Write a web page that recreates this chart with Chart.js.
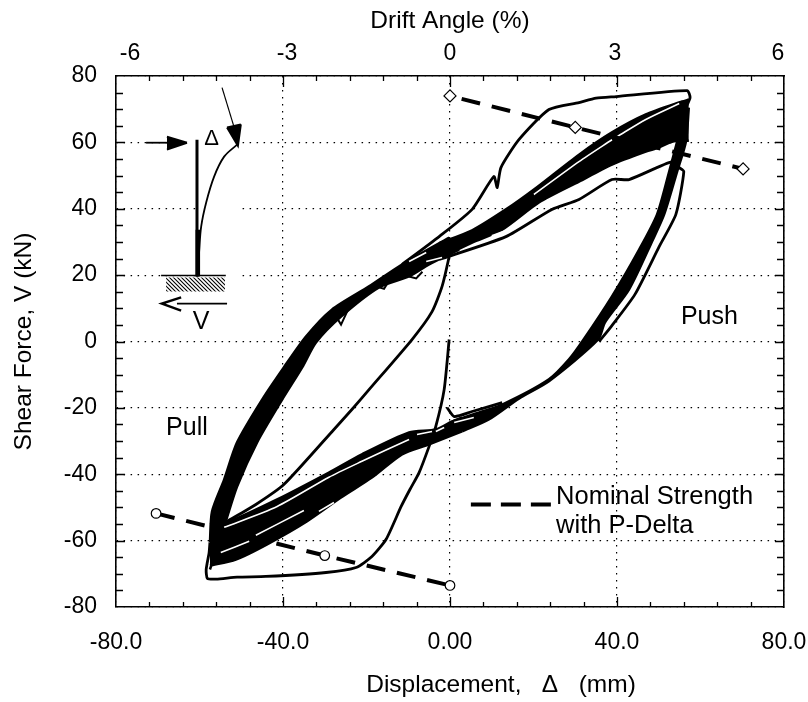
<!DOCTYPE html>
<html><head><meta charset="utf-8">
<style>html,body{margin:0;padding:0;background:#fff}canvas{display:block}</style>
<script src="https://cdn.jsdelivr.net/npm/chart.js@4"></script>
</head><body><canvas id="c" width="808" height="702"></canvas>
<script>
// Axis content
const xTickLabels = {"-80":"-80.0","-40":"-40.0","0":"0.00","40":"40.0","80":"80.0"};
const driftTicks = [-6,-3,0,3,6];
const xMinorValues = [-72,-64,-56,-48,-40,-32,-24,-16,-8,0,8,16,24,32,40,48,56,64,72];
const xMajorValues = [-40,0,40];
const yMinorValues = [75,70,65,60,55,50,45,40,35,30,25,20,15,10,5,0,-5,-10,-15,-20,-25,-30,-35,-40,-45,-50,-55,-60,-65,-70,-75];
const yMajorValues = [60,40,20,0,-20,-40,-60];

// First-excursion curve to pull, and the unloading that follows it
const pullVirgin = [[-0.2,0.6],[-1.4,-14.5],[-3.4,-25.6],[-5,-31.6],[-7.4,-39.5],[-9.6,-44.6],[-11.7,-49.7],[-15.3,-59.6],[-18.7,-64.8],[-22.5,-68.1],[-29.7,-69.6],[-44.1,-70.8],[-51,-71],[-56,-71.6],[-58.1,-71.4],[-58.4,-68.7],[-57.7,-63.6],[-57.5,-60.5]];
const pullUnload = [[-53.4,-54.2],[-46.5,-49.1],[-39.8,-43.1],[-27.8,-26.5],[-23.5,-20.5],[-19.4,-14.5],[-9.1,0.6],[-4.3,9],[-1.9,16.6],[-0.2,25.6],[0,27.7]];
// First excursion to push
const pushVirgin = [[-11.5,23.2],[-2.6,31.6],[5.3,39.8],[10.5,49.7],[11.3,46.4],[12.2,52.4],[16.5,60.8],[23.7,69.9],[30.9,72],[35,73.3],[39.8,73.8],[56.8,75.6],[57.5,73.5],[56.5,70.5]];
const pushOuter = [[-2.6,24.7],[13.4,31.6],[24.4,39.8],[30.9,42.8],[38.8,48.8],[42.9,48.8],[53.2,54.2],[54.9,52.4],[56,51.2],[54.1,38.3],[50.1,28.6],[44.3,14.2],[38.6,4.5],[35.7,0]];
const pushStart = [[-0.7,-19.9],[1,-22.6],[5.3,-21.1],[12.5,-18.4]];
const kinks = [[-28.3,9.6],[-26.1,5.1],[-24.2,10.2],[null,null],[-17,16.3],[-15.8,15.9],[-15,17.5],[null,null],[-9.8,19.6],[-8.1,19],[-6.6,21]];

// Dense repeated-cycle bands: upper and lower edges
const bandAUpper = [[-57.5,-60.5],[-57,-51.2],[-54.1,-41.6],[-51,-30.4],[-45,-17.5],[-39.8,-7.8],[-34.5,1.5],[-28.3,9.6],[-19.4,16.6],[-11.5,23.2],[-0.2,31.3]];
const bandALower = [[-57.5,-68.7],[-53.7,-54.2],[-51,-43.7],[-46.2,-30.4],[-40.2,-17.5],[-35.4,-7.8],[-32.1,-0.3],[-26.1,7.5],[-17,16.3],[-9.8,19.6],[-5,23.2],[2.2,27.7]];
const bandBUpper = [[-2.6,29.6],[5.3,33.5],[13.4,39.8],[20.1,45.8],[30.9,56.3],[38.8,63],[46.9,68.4],[55.6,72.3],[57.2,72.9]];
const bandBLower = [[-2.6,25],[5.3,29.8],[12.5,33.7],[21.3,41.9],[30.9,48.2],[38.8,53.3],[46.9,57.2],[50,58.4],[53.2,60.2],[57.2,60.5]];
const bandCUpper = [[0.5,-24.1],[6.2,-21.7],[12.5,-19],[23.7,-11.4],[28.5,-5.4],[32,0.6],[38.8,13.6],[45.3,27.7],[49.6,38.3],[52.5,51.2],[54.4,60.2],[56.5,70.5]];
const bandCLower = [[2.9,-27.1],[9.3,-23.5],[16.5,-17.2],[23.7,-12],[35.5,0.6],[37.1,5.7],[42.9,15.7],[48.6,30.7],[51.3,38.3],[54.4,51.2],[56.5,60.2],[57.2,70.5]];
const bandDUpper = [[-57.5,-55.1],[-53.4,-54.5],[-41.4,-47.6],[-29,-39.5],[-21.1,-34],[-9.8,-27.4],[-3.4,-26.5],[0.5,-24.1],[2.9,-22.9]];
const bandDLower = [[-57.5,-67.5],[-51.3,-65.7],[-43.8,-61.1],[-34.3,-54.2],[-26.1,-47],[-18.7,-41],[-11.5,-34],[-5,-31],[2.9,-27.1]];

// Thin white gaps inside the bands
const gapPush1 = [[20.1,44.3],[30.9,54.2],[38.8,60.8]];
const gapPush2 = [[40,61.7],[46.9,66.9],[54.9,71.7]];
const gapPush3 = [[10,31.9],[14.6,33.9]];
const gapUpperA = [[-9.8,24.1],[-5.7,26.8]];
const gapUpperB = [[-5.7,24.1],[-1.9,25.3]];
const gapPull1 = [[-54.1,-56],[-41.4,-49.7],[-29,-40.9],[-21.1,-36.1],[-9.8,-29.5]];
const gapPull1b = [[-7.9,-28],[-4.3,-27.1]];
const gapPull1c = [[-3.4,-27.1],[-1.4,-25.9]];
const gapPull2 = [[-54.9,-63.6],[-48.1,-60.2]];
const gapPull2b = [[-46.5,-58.4],[-35,-50.9]];
const gapPull3 = [[-31.4,-51.2],[-27.8,-48.5]];
const gapLow = [[1,-24.4],[5.7,-22.9]];

// Nominal strength with P-Delta
const nominalPush = [[0,74],[30,64.5],[70.2,52]];
const nominalPull = [[-70.4,-51.8],[-30,-64.5],[0,-73.5]];
const legendDash = [[5,-49.1],[24.2,-49.1]];

// Inset column sketch
const insetMaskTop = [[-60.6,62.3],[-49.8,62.3]];
const insetMaskBottom = [[-60.6,17.8],[-49.8,17.8]];
const insetMask2Top = [[-63,60.8],[-60.6,60.8]];
const insetMask2Bottom = [[-63,59],[-60.6,59]];
const hatchTop = [[-68,19.3],[-53.9,19.3]];
const hatchBottom = [[-68,15.1],[-53.9,15.1]];
const groundLine = [[-69.2,19.9],[-53.7,19.9]];
const columnLine = [[-60.6,60.8],[-60.6,19.6]];
const columnBase = [[-60.4,33.7],[-60.4,19.6]];
const deflected = [[-60.5,19.6],[-60.1,26.8],[-59.6,34.6],[-58.4,41.9],[-56.5,49.7],[-54.1,55.7],[-51,59.3]];
const pushArrow = [[-72.8,59.9],[-67.8,59.9]];
const pushHeadUpper = [[-67.8,61.7],[-63,59.9]];
const pushHeadLower = [[-67.8,57.8],[-63,59.9]];
const leaderLine = [[-54.6,76.5],[-51.7,64.5]];
const leaderHeadUpper = [[-53.4,64.5],[-50.1,65.4]];
const leaderHeadLower = [[-53.4,64.5],[-50.8,59],[-50.1,65.4]];
const shearArrow = [[-53.4,11.4],[-65.4,11.4]];
const shearHead = [[-64.4,13.3],[-69,11.4],[-64.4,9.3]];

// Text placed on the data scales: [text, x, y, size, align]
const noteLabels = [
  ["Pull",-68,-26.2,25,"left"],
  ["Push",55.3,7.5,25,"left"],
  ["Nominal Strength",25.4,-46.7,25.5,"left"],
  ["with P-Delta",25.4,-55.7,25.5,"left"],
  ["\u0394",-57.1,61,22,"center"],
  ["V",-59.6,5.7,25,"center"]
];
const xAxisTitle = "Displacement,   \u0394   (mm)";
const yAxisTitle = "Shear Force, V (kN)";
const topAxisTitle = "Drift Angle (%)";
const driftLabelNudge = [14,4,0,-2,-6];

const FONT = '"Liberation Sans", Arial, sans-serif';
const hatchPattern = (() => {
  const p = document.createElement('canvas'); p.width = 4; p.height = 4;
  const g = p.getContext('2d'); g.strokeStyle = '#000'; g.lineWidth = 1.1;
  g.beginPath(); g.moveTo(-1,-1); g.lineTo(5,5); g.moveTo(-3,1); g.lineTo(1,5); g.moveTo(3,-1); g.lineTo(5,1); g.stroke();
  return g.createPattern(p,'repeat');
})();

const line = (data, w, extra) => Object.assign({data, borderColor:'#000', borderWidth:w, pointRadius:0, showLine:true, fill:false, tension:0}, extra||{});
const band = (upper, lower, color, stroke, tension) => [
  line(upper, stroke===undefined?2:stroke, {fill:'+1', backgroundColor:color||'#000', borderColor:color||'#000', tension:tension||0}),
  line(lower, stroke===undefined?2:stroke, {borderColor:color||'#000', tension:tension||0})
];
const white = (data) => line(data, 1.6, {borderColor:'#fff', tension:.25});
const curve = {tension:.2};
const marker = (style, r) => ({pointStyle:style, pointRadius:r, pointBackgroundColor:'#fff', pointBorderColor:'#000', pointBorderWidth:1.2});

const datasets = [
  ...band(insetMaskTop, insetMaskBottom, '#fff', 0),
  ...band(insetMask2Top, insetMask2Bottom, '#fff', 0),
  line(hatchTop, 0, {fill:'+1', backgroundColor:hatchPattern, borderColor:'rgba(0,0,0,0)'}),
  line(hatchBottom, 0, {borderColor:'rgba(0,0,0,0)'}),
  line(groundLine, 1.5),
  line(columnLine, 3),
  line(columnBase, 4.5),
  line(deflected, 1.8, {tension:.35}),
  line(pushArrow, 1.8),
  ...band(pushHeadUpper, pushHeadLower),
  line(leaderLine, 1.2),
  ...band(leaderHeadUpper, leaderHeadLower),
  line(shearArrow, 1.6),
  line(shearHead, 2.5),
  ...band(bandAUpper, bandALower, '#000', 2.5, .25),
  ...band(bandBUpper, bandBLower, '#000', 2.5, .25),
  ...band(bandCUpper, bandCLower, '#000', 2.5, .25),
  ...band(bandDUpper, bandDLower, '#000', 2.5, .25),
  line(pullVirgin, 2.8, curve),
  line(pullUnload, 2.8, curve),
  line(pushVirgin, 2.8, curve),
  line(pushOuter, 2.8, curve),
  line(pushStart, 2.8, curve),
  line(kinks, 2),
  white(gapPush1), white(gapPush2), white(gapPush3), white(gapUpperA), white(gapUpperB),
  white(gapPull1), white(gapPull1b), white(gapPull1c), white(gapPull2), white(gapPull2b), white(gapPull3), white(gapLow),
  line(nominalPush, 4, Object.assign({borderDash:[19,12], borderDashOffset:19}, marker('rectRot',6))),
  line(nominalPull, 4, Object.assign({borderDash:[19,12]}, marker('circle',4.8))),
  line(legendDash, 4, {borderDash:[20,10]})
];
datasets.forEach((d,i)=>{ d.order = datasets.length - i; });

const frameSize = {left:116, right:24, top:76, bottom:95};

const axisFurniture = {
  id:'axisFurniture',
  afterDatasetsDraw(chart){
    const {ctx, chartArea:a, scales:{x,y}} = chart;
    ctx.save();
    ctx.strokeStyle='#000'; ctx.lineWidth=1.3;
    const tickX=(v,topLen,botLen)=>{const p=Math.round(x.getPixelForValue(v))+.5;ctx.beginPath();ctx.moveTo(p,a.top);ctx.lineTo(p,a.top+topLen);ctx.moveTo(p,a.bottom);ctx.lineTo(p,a.bottom-botLen);ctx.stroke();};
    const tickY=(v,len)=>{const p=Math.round(y.getPixelForValue(v))+.5;ctx.beginPath();ctx.moveTo(a.left,p);ctx.lineTo(a.left+len,p);ctx.moveTo(a.right,p);ctx.lineTo(a.right-len,p);ctx.stroke();};
    xMinorValues.forEach(v=>tickX(v,xMajorValues.includes(v)?11:5,xMajorValues.includes(v)?10:5));
    yMinorValues.forEach(v=>tickY(v,yMajorValues.includes(v)?9:7));
    ctx.fillStyle='#000'; ctx.textBaseline='middle';
    noteLabels.forEach(([t,vx,vy,s,al])=>{ctx.font=s+'px '+FONT;ctx.textAlign=al;ctx.fillText(t,x.getPixelForValue(vx),y.getPixelForValue(vy));});
    ctx.font='24.5px '+FONT; ctx.textAlign='center';
    ctx.fillText(xAxisTitle,501,685);
    ctx.restore();
  }
};

const tickFont = {family:FONT,size:23};
const titleFont = {family:FONT,size:24.5};
const bw = {display:true,color:'#000',width:1.6};
new Chart(document.getElementById('c'),{
  type:'scatter',
  data:{datasets},
  plugins:[axisFurniture],
  options:{
    responsive:false, animation:false,
    layout:{padding:0},
    plugins:{legend:{display:false},tooltip:{enabled:false}},
    scales:{
      x:{type:'linear',position:'bottom',min:-80,max:80,
         afterFit(s){s.height=frameSize.bottom;s.paddingLeft=0;s.paddingRight=0;},
         ticks:{stepSize:40,padding:22,maxRotation:0,color:'#000',font:tickFont,callback:v=>xTickLabels[v]},
         grid:{color:'#000',lineWidth:1.2,drawTicks:false},
         border:Object.assign({dash:[1.5,5.5]},bw)},
      x2:{type:'linear',position:'top',min:-6,max:6,
         afterFit(s){
           s.height=frameSize.top;s.paddingLeft=0;s.paddingRight=0;
           s.getPixelForTick=i=>s.getPixelForValue(s.ticks[i].value)+driftLabelNudge[driftTicks.indexOf(s.ticks[i].value)];
         },
         title:{display:true,text:topAxisTitle,color:'#000',font:titleFont,padding:{top:7,bottom:0}},
         ticks:{stepSize:3,padding:9,maxRotation:0,color:'#000',font:tickFont,callback:v=>driftTicks.includes(v)?String(v):''},
         grid:{display:false,drawTicks:false},border:bw},
      y:{type:'linear',position:'left',min:-80,max:80,
         afterFit(s){s.width=frameSize.left;s.paddingTop=0;s.paddingBottom=0;},
         title:{display:true,text:yAxisTitle,color:'#000',font:titleFont,padding:{top:10,bottom:0}},
         ticks:{stepSize:20,padding:19,color:'#000',font:tickFont},
         grid:{color:'#000',lineWidth:1.2,drawTicks:false},
         border:Object.assign({dash:[1.5,5.5]},bw)},
      y2:{type:'linear',position:'right',min:-80,max:80,
         afterFit(s){s.width=frameSize.right;},
         ticks:{display:false},grid:{display:false,drawTicks:false},border:bw}
    }
  }
});
</script></body></html>
